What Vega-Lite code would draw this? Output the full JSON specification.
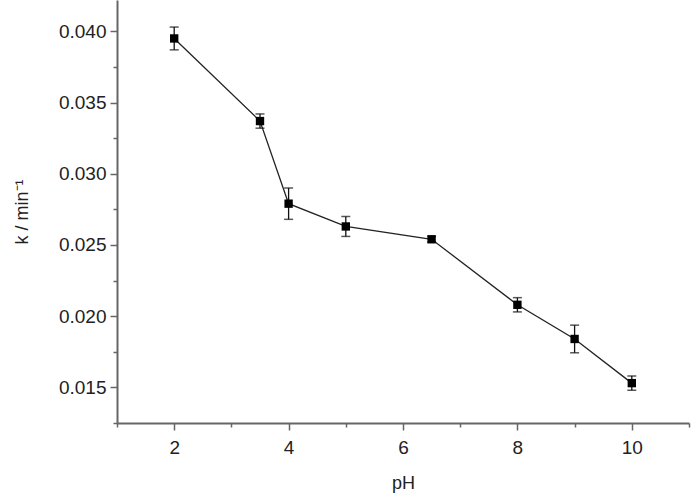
{
  "$schema": "https://vega.github.io/schema/vega-lite/v6.json",
  "width": 572,
  "height": 423,
  "autosize": {"type": "none"},
  "padding": {"left": 117, "top": 0, "right": 3, "bottom": 70},
  "background": "white",
  "config": {
    "view": {"stroke": null},
    "font": "Liberation Sans",
    "axis": {
      "grid": false,
      "domainColor": "#666666",
      "domainWidth": 2,
      "tickColor": "#666666",
      "tickWidth": 1.5,
      "labelFont": "Liberation Sans",
      "labelFontSize": 19,
      "labelColor": "#222222",
      "titleFont": "Liberation Sans",
      "titleFontSize": 18,
      "titleFontWeight": "normal",
      "titleColor": "#222222"
    }
  },
  "data": {
    "values": [
      {"pH": 2, "k": 0.0395, "err": 0.0008},
      {"pH": 3.5, "k": 0.0337, "err": 0.0005},
      {"pH": 4, "k": 0.0279, "err": 0.0011},
      {"pH": 5, "k": 0.0263, "err": 0.0007},
      {"pH": 6.5, "k": 0.0254, "err": 0.0002},
      {"pH": 8, "k": 0.0208, "err": 0.0005},
      {"pH": 9, "k": 0.0184, "err": 0.00097},
      {"pH": 10, "k": 0.0153, "err": 0.0005}
    ]
  },
  "encoding": {
    "x": {
      "field": "pH",
      "type": "quantitative",
      "scale": {"domain": [1, 11], "nice": false, "zero": false},
      "axis": {
        "title": "pH",
        "values": [1, 2, 3, 4, 5, 6, 7, 8, 9, 10, 11],
        "labelExpr": "datum.value % 2 == 0 ? datum.label : ''",
        "tickSize": {"condition": {"test": "datum.value % 2 == 0", "value": 7}, "value": 4},
        "labelPadding": 8,
        "titlePadding": 17
      }
    },
    "y": {
      "field": "k",
      "type": "quantitative",
      "scale": {"domain": [0.0125, 0.0422], "nice": false, "zero": false},
      "axis": {
        "title": "k / min⁻¹",
        "values": [0.0125, 0.015, 0.0175, 0.02, 0.0225, 0.025, 0.0275, 0.03, 0.0325, 0.035, 0.0375, 0.04],
        "format": ".3f",
        "labelExpr": "round(datum.value * 400) % 2 == 0 ? datum.label : ''",
        "tickSize": {"condition": {"test": "round(datum.value * 400) % 2 == 0", "value": 7}, "value": 4},
        "labelPadding": 4,
        "titlePadding": 27
      }
    }
  },
  "layer": [
    {
      "mark": {"type": "line", "color": "#222222", "strokeWidth": 1.3}
    },
    {
      "mark": {"type": "errorbar", "color": "#111111", "thickness": 1.3, "ticks": {"size": 9, "thickness": 1.5}},
      "encoding": {
        "yError": {"field": "err"}
      }
    },
    {
      "mark": {"type": "square", "color": "#000000", "filled": true, "opacity": 1, "size": 70}
    }
  ]
}
